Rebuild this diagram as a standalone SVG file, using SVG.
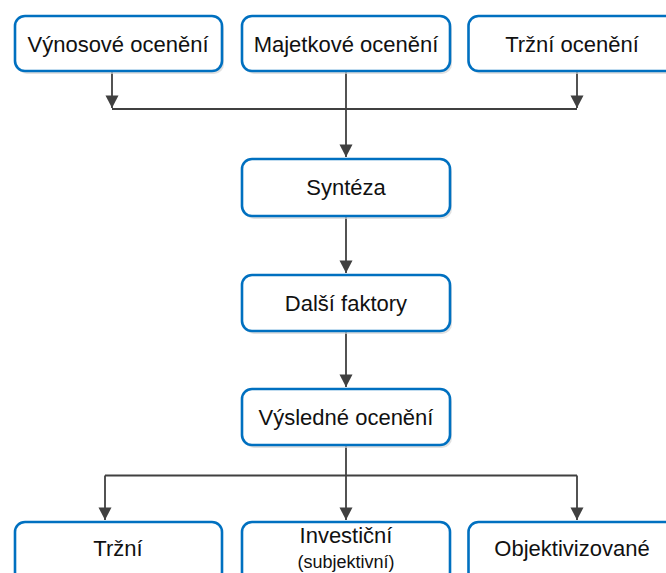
<svg xmlns="http://www.w3.org/2000/svg" width="666" height="573" viewBox="0 0 666 573">
  <style>
    .box { fill: #ffffff; stroke: #0070c0; stroke-width: 2.6; }
    .shadow { fill: #d4d4d4; opacity: 0.7; }
    .lbl { font-family: "Liberation Sans", Arial, sans-serif; font-size: 22px; fill: #111111; text-anchor: middle; }
    .small { font-size: 18px; }
    .conn { fill: none; stroke: #404040; stroke-width: 1.8; }
  </style>
  <defs>
    <marker id="arrow" markerUnits="userSpaceOnUse" markerWidth="14" markerHeight="14" viewBox="-13 -7 14 14" refX="0" refY="0" orient="auto">
      <path d="M-12.5,-6.5 L0,0 L-12.5,6.5 Z" fill="#404040"/>
    </marker>
  </defs>
  <rect width="666" height="573" fill="#ffffff"/>

  <g id="connectors">
    <path class="conn" d="M112,71 V108" marker-end="url(#arrow)"/>
    <path class="conn" d="M577,71 V108" marker-end="url(#arrow)"/>
    <path class="conn" d="M112,109 H577"/>
    <path class="conn" d="M346,71 V157" marker-end="url(#arrow)"/>
    <path class="conn" d="M346,216 V273" marker-end="url(#arrow)"/>
    <path class="conn" d="M346,331 V387" marker-end="url(#arrow)"/>
    <path class="conn" d="M346,445 V520" marker-end="url(#arrow)"/>
    <path class="conn" d="M105,475.5 H577"/>
    <path class="conn" d="M105,475.5 V520" marker-end="url(#arrow)"/>
    <path class="conn" d="M577,475.5 V520" marker-end="url(#arrow)"/>
  </g>

  <g id="n-vynosove">
    <rect class="shadow" x="17" y="19" width="207" height="55" rx="10"/>
    <rect class="box" x="15" y="16" width="207" height="55" rx="10"/>
    <text class="lbl" x="118" y="52">Výnosové ocenění</text>
  </g>
  <g id="n-majetkove">
    <rect class="shadow" x="244" y="19" width="208" height="55" rx="10"/>
    <rect class="box" x="242" y="16" width="208" height="55" rx="10"/>
    <text class="lbl" x="346" y="52">Majetkové ocenění</text>
  </g>
  <g id="n-trzni-oceneni">
    <rect class="shadow" x="470.5" y="19" width="208" height="55" rx="10"/>
    <rect class="box" x="468.5" y="16" width="208" height="55" rx="10"/>
    <text class="lbl" x="572" y="52">Tržní ocenění</text>
  </g>
  <g id="n-synteza">
    <rect class="shadow" x="244" y="162" width="208" height="57" rx="10"/>
    <rect class="box" x="242" y="159" width="208" height="57" rx="10"/>
    <text class="lbl" x="346" y="195">Syntéza</text>
  </g>
  <g id="n-dalsi">
    <rect class="shadow" x="244" y="278" width="208" height="56" rx="10"/>
    <rect class="box" x="242" y="275" width="208" height="56" rx="10"/>
    <text class="lbl" x="346" y="311">Další faktory</text>
  </g>
  <g id="n-vysledne">
    <rect class="shadow" x="244" y="392" width="208" height="56" rx="10"/>
    <rect class="box" x="242" y="389" width="208" height="56" rx="10"/>
    <text class="lbl" x="346" y="425">Výsledné ocenění</text>
  </g>
  <g id="n-trzni">
    <rect class="box" x="15" y="522" width="207" height="60" rx="10"/>
    <text class="lbl" x="118" y="556">Tržní</text>
  </g>
  <g id="n-investicni">
    <rect class="box" x="242" y="522" width="208" height="60" rx="10"/>
    <text class="lbl" x="346" y="543">Investiční</text>
    <text class="lbl small" x="346" y="568">(subjektivní)</text>
  </g>
  <g id="n-objektivizovane">
    <rect class="box" x="468.5" y="522" width="208" height="60" rx="10"/>
    <text class="lbl" x="572" y="556">Objektivizované</text>
  </g>
</svg>
